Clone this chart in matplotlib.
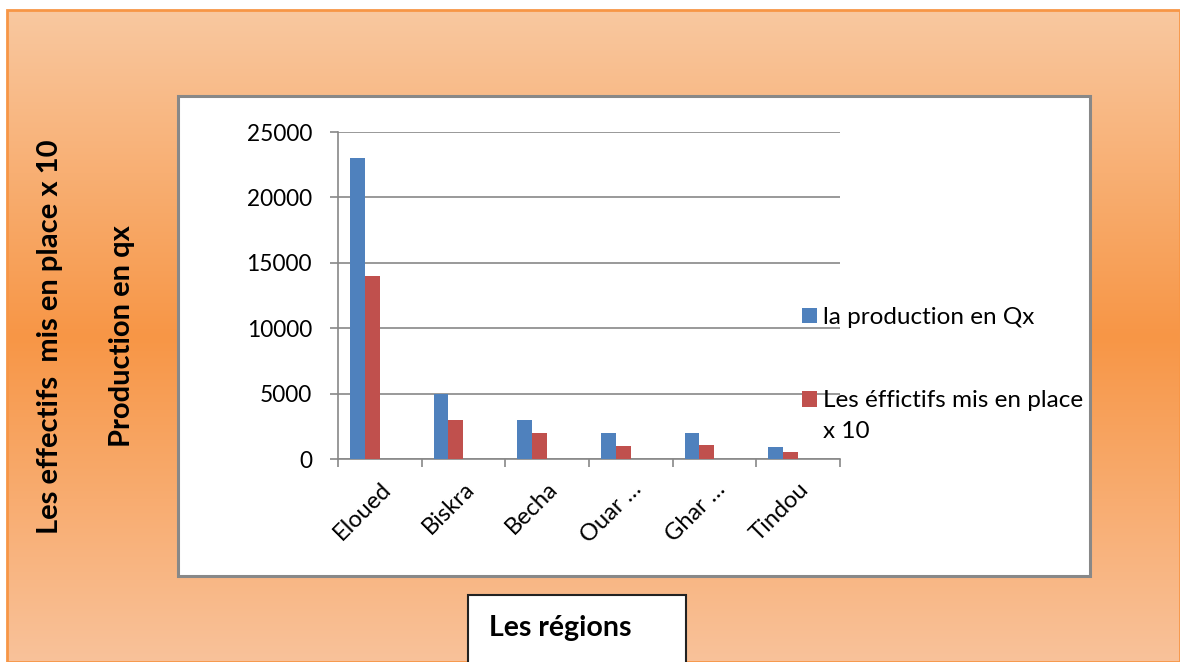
import numpy as np
import matplotlib.pyplot as plt
from matplotlib.patches import Rectangle
from matplotlib.colors import LinearSegmentedColormap
from matplotlib.legend_handler import HandlerPatch
from matplotlib.transforms import ScaledTranslation

plt.rcParams['font.family'] = ['Lato', 'DejaVu Sans']

regions = ['Eloued', 'Biskra', 'Becha', 'Ouar …', 'Ghar …', 'Tindou']
production = [23000, 5000, 3000, 2000, 2000, 900]
effectifs = [14000, 3000, 2000, 1000, 1100, 500]
yticks = [0, 5000, 10000, 15000, 20000, 25000]

fig = plt.figure(figsize=(11.8, 6.62), dpi=100)
W, H = 1180, 662

# orange gradient background
bg = fig.add_axes([0, 0, 1, 1], zorder=-10)
bg.set_xlim(0, W)
bg.set_ylim(H, 0)
bg.axis('off')
cmap = LinearSegmentedColormap.from_list('bg', ['#F9C8A0', '#F79646', '#F9C29A'])
grad = np.linspace(0, 1, 256).reshape(-1, 1)
bg.imshow(grad, cmap=cmap, aspect='auto', extent=(7, W, H, 10))
bg.add_patch(Rectangle((7, 10), W - 7, H - 10, fill=False, edgecolor='#F79646', lw=2))
# white plot area
bg.add_patch(Rectangle((178, 96), 912, 480, facecolor='white', edgecolor='#888888', lw=2.2))
# x title box
bg.add_patch(Rectangle((468, 595), 218, 80, facecolor='white', edgecolor='#222222', lw=1.5))
bg.text(489, 636, 'Les régions', fontsize=20.5, fontweight='bold', va='baseline', ha='left')
bg.text(50, 337, 'Les effectifs  mis en place x 10', fontsize=21, fontweight='bold',
        rotation=90, va='center', ha='center')
bg.text(122, 336, 'Production en qx', fontsize=21, fontweight='bold',
        rotation=90, va='center', ha='center')

ax = fig.add_axes([338 / W, 1 - 459 / H, 502 / W, 327 / H])
x = np.arange(len(regions))
w = 0.178
b1 = ax.bar(x - 0.5 + 0.142 + w / 2, production, w, color='#4F81BD', zorder=3,
            label='la production en Qx')
b2 = ax.bar(x - 0.5 + 0.142 + 1.5 * w, effectifs, w, color='#C0504D', zorder=3,
            label='Les éffictifs mis en place\nx 10')

ax.set_xlim(-0.5, len(regions) - 0.5)
ax.set_ylim(0, 25000)
ax.set_yticks(yticks)
ax.set_yticklabels([str(v) for v in yticks], fontsize=16.3)
ax.set_xticks(x)
ax.set_xticklabels(regions, fontsize=17, rotation=45, ha='right', rotation_mode='anchor')
shift = ScaledTranslation(-0.05, -0.03, fig.dpi_scale_trans)
for lab in ax.get_xticklabels():
    lab.set_transform(lab.get_transform() + shift)
ax.set_xticks(np.arange(-0.5, len(regions)), minor=True)
ax.tick_params(axis='x', which='major', length=0, pad=14)
ax.tick_params(axis='x', which='minor', length=5.8, color='#888888', width=1.2)
ax.tick_params(axis='y', length=5.8, color='#888888', width=1.2, pad=13)
ax.grid(axis='y', color='#888888', lw=1.2, zorder=0)
for s in ['top', 'right']:
    ax.spines[s].set_visible(False)
for s in ['left', 'bottom']:
    ax.spines[s].set_color('#888888')
    ax.spines[s].set_linewidth(1.2)
ax.patch.set_alpha(0)


# legend key of the two-line entry sits on its first line, as in Excel
def raised_key(legend, orig_handle, xdescent, ydescent, width, height, fontsize):
    return Rectangle((-xdescent, -ydescent + 12), width, height)


def copy_first(legend_handle, orig_handle):
    legend_handle.update_from(orig_handle.patches[0])


leg = fig.legend(handles=[b1, b2], loc='upper left', bbox_to_anchor=(802 / W, 1 - 307 / H),
                 frameon=False, fontsize=17.5, handlelength=0.62, handleheight=0.62,
                 handletextpad=0.25, labelspacing=2.55, borderaxespad=0, borderpad=0,
                 handler_map={b2: HandlerPatch(patch_func=raised_key, update_func=copy_first)})
for t in leg.get_texts():
    t.set_linespacing(1.6)

fig.savefig('out.png', dpi=100)
